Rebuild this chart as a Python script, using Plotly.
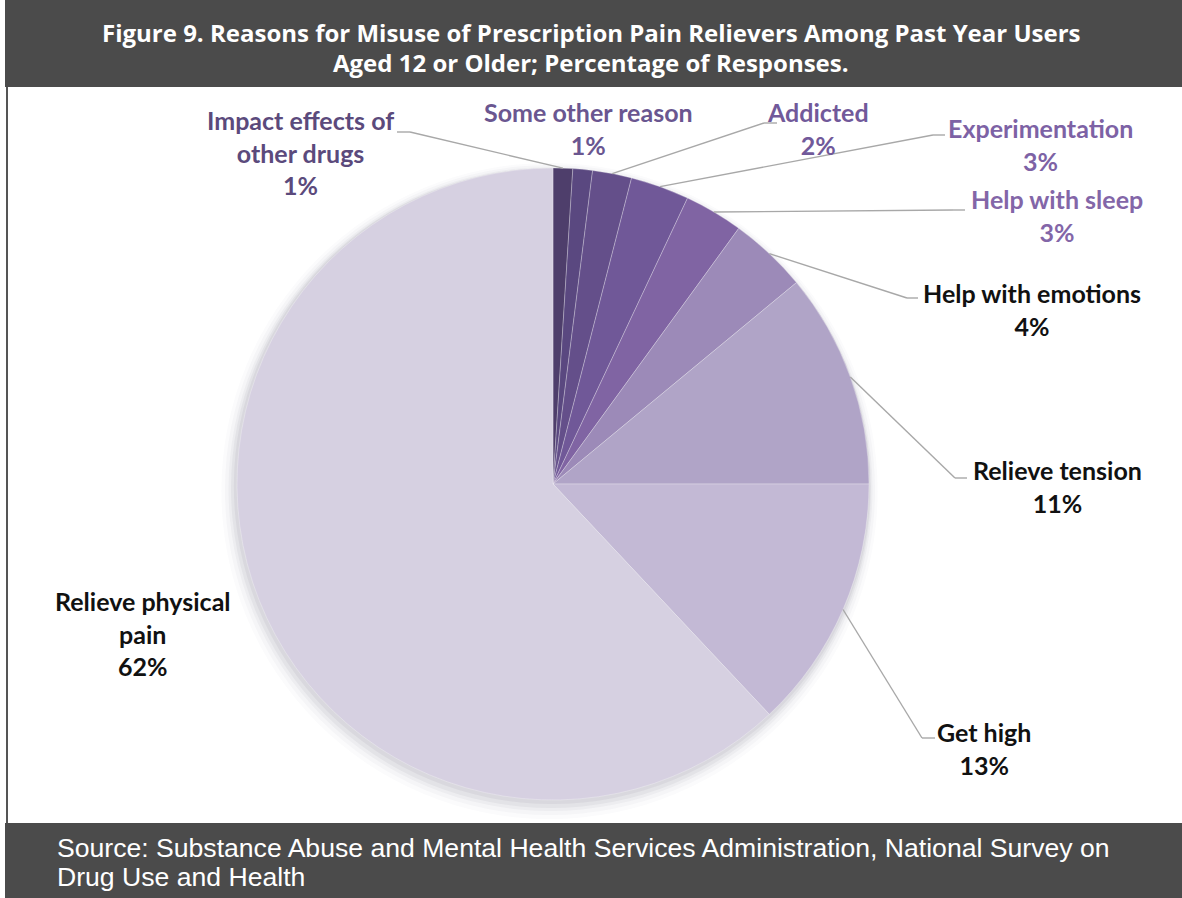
import math
import plotly.graph_objects as go

# ---------------- data ----------------
categories = [
    "Impact effects of<br>other drugs",
    "Some other reason",
    "Addicted",
    "Experimentation",
    "Help with sleep",
    "Help with emotions",
    "Relieve tension",
    "Get high",
    "Relieve physical<br>pain",
]
percents = [1, 1, 2, 3, 3, 4, 11, 13, 62]

slice_colors = ["#4e3e6b", "#5a4880", "#644f8a", "#705898", "#8064a3",
                "#9c8ab8", "#b0a4c7", "#c3b9d5", "#d6d0e1"]
label_colors = ["#5b4a7c", "#6a5690", "#71599a", "#7d62a5", "#8366a8",
                "#111111", "#111111", "#111111", "#111111"]

title_lines = ["Figure 9. Reasons for Misuse of Prescription Pain Relievers Among Past Year Users",
               "Aged 12 or Older; Percentage of Responses."]
source_lines = ["Source: Substance Abuse and Mental Health Services Administration, National Survey on",
                "Drug Use and Health"]

# label layout (pixels): text centre, leader elbow, leader end (None = no leader)
label_pos = [(300, 152), (588, 128), (818, 128), (1040, 144), (1057, 216),
             (1032, 309), (1057, 486), (984, 748), (143, 633)]
leader_elbow = [(410, 132), None, (764, 123), (933, 135), (953, 210),
                (907, 298), (955, 478), (922, 738), None]
leader_end = [397, None, 777, 945, 965, 918, 967, 935, None]

W, H = 1182, 898
CX, CY, R = 553, 484, 316


def px(x):
    return x / W


def py(y):
    return 1 - y / H


fig = go.Figure()

# soft shadow behind the pie
for i, (grow, off, alpha) in enumerate([(12, 7, 0.02), (9, 6, 0.03), (6, 5, 0.04), (4, 4, 0.05), (2, 2, 0.06)]):
    r = R + grow
    fig.add_trace(go.Pie(
        values=[sum(percents)], labels=["shadow%d" % i], sort=False,
        marker=dict(colors=["rgba(60,50,80,%g)" % alpha]),
        textinfo="none", hoverinfo="skip", showlegend=False,
        domain=dict(x=[px(CX - r - off / 2), px(CX + r - off / 2)],
                    y=[py(CY + r + off), py(CY - r + off)]),
    ))

fig.add_trace(go.Pie(
    labels=[c.replace("<br>", " ") for c in categories],
    values=percents,
    sort=False,
    direction="clockwise",
    rotation=0,
    marker=dict(colors=slice_colors, line=dict(color="rgba(255,255,255,0.35)", width=0.8)),
    textinfo="none",
    hovertemplate="%{label}: %{value}%<extra></extra>",
    showlegend=False,
    domain=dict(x=[px(CX - R), px(CX + R)], y=[py(CY + R), py(CY - R)]),
))

shapes = []
annotations = []
total = sum(percents)
cum = 0
for i, v in enumerate(percents):
    mid = (cum + v / 2) / total * 2 * math.pi
    cum += v
    ex = CX + R * math.sin(mid)
    ey = CY - R * math.cos(mid)
    if leader_elbow[i] is not None:
        bx, by = leader_elbow[i]
        shapes.append(dict(type="line", xref="paper", yref="paper",
                           x0=px(ex), y0=py(ey), x1=px(bx), y1=py(by),
                           line=dict(color="#a8a8a8", width=1.4)))
        shapes.append(dict(type="line", xref="paper", yref="paper",
                           x0=px(bx), y0=py(by), x1=px(leader_end[i]), y1=py(by),
                           line=dict(color="#a8a8a8", width=1.4)))
    lx, ly = label_pos[i]
    annotations.append(dict(
        x=px(lx), y=py(ly), xref="paper", yref="paper",
        text="<b>%s<br>%d%%</b>" % (categories[i], v),
        showarrow=False, xanchor="center", yanchor="middle", align="center",
        font=dict(family="Lato, Open Sans, sans-serif", size=25, color=label_colors[i]),
    ))

# header / footer bars and frame
shapes += [
    dict(type="rect", xref="paper", yref="paper", x0=px(5), x1=1, y0=py(87), y1=1,
         fillcolor="#4b4b4b", line=dict(width=0), layer="below"),
    dict(type="rect", xref="paper", yref="paper", x0=px(5), x1=1, y0=0, y1=py(823),
         fillcolor="#4b4b4b", line=dict(width=0), layer="below"),
    dict(type="line", xref="paper", yref="paper", x0=px(7), x1=px(7), y0=py(823), y1=py(87),
         line=dict(color="#555555", width=2)),
]

for j, (t, yc) in enumerate(zip(title_lines, [32, 63])):
    annotations.append(dict(
        x=px(591), y=py(yc), xref="paper", yref="paper",
        text="<b>%s</b>" % t,
        showarrow=False, xanchor="center", yanchor="middle", align="center",
        font=dict(family="Open Sans, sans-serif", size=24, color="white"),
    ))
for j, (t, yc) in enumerate(zip(source_lines, [848, 877])):
    annotations.append(dict(
        x=px(55), y=py(yc), xref="paper", yref="paper",
        text=t,
        showarrow=False, xanchor="left", yanchor="middle", align="left",
        font=dict(family="Liberation Sans, Arial, sans-serif", size=26.6, color="white"),
    ))

fig.update_layout(
    width=W, height=H,
    margin=dict(l=0, r=0, t=0, b=0),
    paper_bgcolor="white", plot_bgcolor="white",
    shapes=shapes, annotations=annotations,
    showlegend=False,
)

fig.write_html("out.html", config={"displayModeBar": False},
               post_script="document.body.style.margin='0px';")
